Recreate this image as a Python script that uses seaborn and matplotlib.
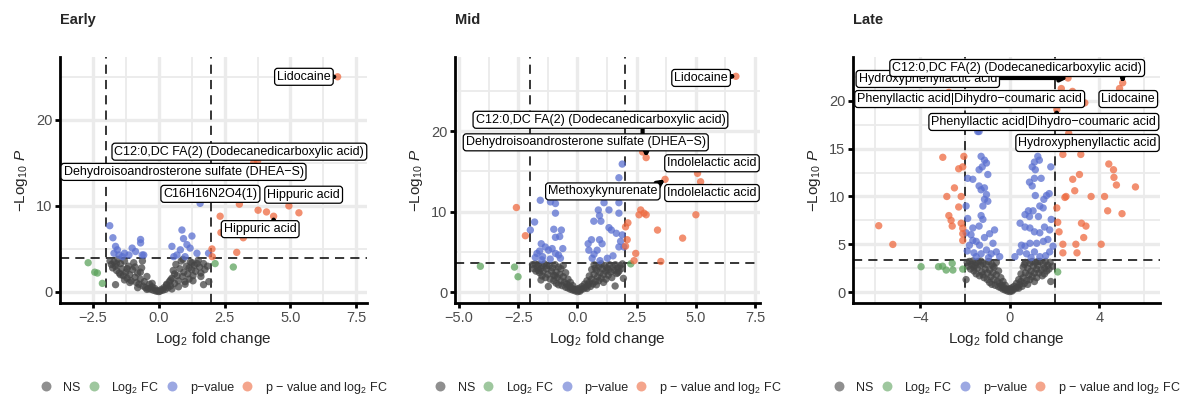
import matplotlib
matplotlib.use('Agg')
import matplotlib.pyplot as plt
import seaborn as sns
import pandas as pd
import numpy as np

sns.set_theme(style='white')
plt.rcParams['font.family'] = ['Liberation Sans', 'DejaVu Sans']
plt.rcParams['mathtext.fontset'] = 'custom'
plt.rcParams['mathtext.rm'] = 'Liberation Sans'
plt.rcParams['mathtext.it'] = 'Liberation Sans:italic'

CATS = ['NS', 'Log$_2$ FC', 'p\u2212value', 'p \u2212 value and log$_2$ FC']
COLORS = ['#454545', '#5da35d', '#5a6fd0', '#ee6a40']

# ---------------- Early ----------------
early_ns = [(-1.85, 3.6), (-1.8, 3.2), (-1.75, 2.8), (-1.7, 3.5), (-1.65, 3.0), (-1.6, 2.5), (-1.55, 3.8),
            (-1.5, 2.2), (-1.45, 3.3), (-1.4, 2.7), (-1.35, 1.9), (-1.3, 3.6), (-1.25, 2.3), (-1.2, 1.6),
            (-1.15, 3.0), (-1.1, 2.0), (-1.05, 1.3), (-1.0, 2.6), (-0.95, 3.4), (-0.9, 1.7), (-0.85, 1.1),
            (-0.8, 2.2), (-0.75, 0.9), (-0.7, 1.5), (-0.65, 2.8), (-0.6, 0.7), (-0.55, 1.2), (-0.5, 0.5),
            (-0.45, 1.8), (-0.4, 0.4), (-0.35, 0.9), (-0.3, 0.3), (-0.25, 0.6), (-0.2, 0.2), (-0.15, 0.4),
            (-0.1, 0.1), (-0.05, 0.15), (0.0, 0.05), (0.05, 0.1), (0.1, 0.3), (0.15, 0.2), (0.2, 0.5),
            (0.25, 0.3), (0.3, 0.8), (0.35, 0.5), (0.4, 1.2), (0.45, 0.7), (0.5, 1.6), (0.55, 2.5),
            (0.6, 1.0), (0.65, 3.2), (0.7, 1.9), (0.75, 1.3), (0.8, 2.7), (0.85, 3.6), (0.9, 1.8),
            (0.95, 2.3), (1.0, 1.2), (1.05, 3.0), (1.1, 2.1), (1.15, 1.5), (1.2, 3.5), (1.25, 2.6),
            (1.3, 1.9), (1.35, 3.1), (1.4, 2.4), (1.5, 3.7), (1.55, 2.9), (1.6, 2.2), (1.7, 3.3),
            (1.75, 2.6), (1.85, 3.0), (-1.64, 0.85), (1.7, 0.85), (1.9, 1.2), (1.26, 3.4), (-0.62, 3.6),
            (0.92, 3.8), (-1.1, 1.1), (-0.8, 0.5), (-0.45, 0.3), (0.5, 0.35), (0.75, 0.6), (1.0, 0.9),
            (-1.3, 1.4), (1.3, 1.3), (-0.25, 1.0), (0.3, 0.9), (-1.6, 3.3), (-1.2, 2.7), (-0.9, 2.9),
            (0.6, 2.1), (1.15, 2.8), (1.45, 3.3), (-1.45, 2.0), (-0.7, 2.3), (0.45, 1.4), (1.6, 1.8)]
early_fc = [(-2.68, 3.4), (-2.43, 2.3), (-2.33, 2.2), (-2.14, 1.0), (2.14, 3.3), (2.83, 2.9)]
early_p = [(-1.86, 7.7), (-1.74, 6.3), (-1.64, 5.3), (-1.57, 4.9), (-1.70, 4.5), (-1.51, 4.3), (-1.38, 4.1),
           (-1.30, 4.5), (-1.13, 4.3), (-1.01, 5.1), (-0.88, 4.7), (-0.69, 6.1), (-0.69, 5.7), (-0.63, 4.3),
           (-0.57, 4.3), (0.50, 5.3), (0.57, 4.1), (0.69, 4.3), (0.82, 4.9), (0.88, 7.2), (0.94, 6.2),
           (1.00, 4.1), (1.07, 5.5), (1.19, 5.1), (1.26, 6.5), (1.45, 4.5), (1.57, 10.3), (1.89, 4.5)]
early_both = [(2.02, 5.0), (2.03, 4.1), (2.33, 8.8), (2.36, 6.9), (2.96, 4.6), (3.21, 6.3), (3.77, 9.5),
              (4.09, 9.3), (5.32, 9.2)]
early_lab = ['Lidocaine', 'C12:0,DC FA(2) (Dodecanedicarboxylic acid)',
             'Dehydroisoandrosterone sulfate (DHEA\u2212S)', 'C16H16N2O4(1)', 'Hippuric acid', 'Hippuric acid']
early_lab_pt = [(6.79, 25.0), (3.75, 15.2), (3.6, 15.0), (3.06, 10.2), (4.94, 10.0), (4.36, 8.8)]
early_lab_at = [(5.51, 25.0), (3.06, 16.3), (0.94, 13.95), (1.96, 11.4), (5.5, 11.3), (3.85, 7.3)]
early_pcut = 3.95

# ---------------- Mid ----------------
mid_ns = [(-1.9, 3.4), (-1.85, 2.9), (-1.8, 3.5), (-1.75, 2.6), (-1.7, 3.1), (-1.65, 3.45), (-1.6, 2.4),
          (-1.55, 2.9), (-1.5, 3.3), (-1.5, 2.0), (-1.45, 2.6), (-1.4, 3.5), (-1.35, 1.8), (-1.3, 2.9),
          (-1.25, 2.2), (-1.2, 3.3), (-1.15, 1.6), (-1.1, 2.6), (-1.05, 3.0), (-1.0, 1.4), (-1.0, 2.1),
          (-0.95, 3.4), (-0.9, 1.1), (-0.9, 2.5), (-0.85, 1.8), (-0.8, 3.1), (-0.8, 0.9), (-0.75, 2.2),
          (-0.7, 1.4), (-0.7, 2.9), (-0.65, 0.8), (-0.6, 1.9), (-0.6, 3.3), (-0.55, 1.2), (-0.5, 0.6),
          (-0.5, 2.4), (-0.45, 1.0), (-0.4, 0.5), (-0.4, 1.6), (-0.35, 0.8), (-0.3, 0.35), (-0.3, 1.2),
          (-0.25, 0.5), (-0.2, 0.25), (-0.2, 0.8), (-0.15, 0.35), (-0.1, 0.15), (-0.05, 0.3), (0.0, 0.05),
          (0.0, 0.4), (0.05, 0.2), (0.1, 0.1), (0.1, 0.5), (0.15, 0.3), (0.2, 0.7), (0.25, 0.4), (0.3, 1.0),
          (0.35, 0.6), (0.4, 1.4), (0.4, 0.45), (0.45, 0.9), (0.5, 2.0), (0.5, 1.2), (0.55, 0.7), (0.6, 2.8),
          (0.6, 1.6), (0.65, 1.0), (0.7, 3.4), (0.7, 2.2), (0.75, 1.3), (0.8, 2.7), (0.8, 0.9), (0.85, 1.9),
          (0.9, 3.2), (0.9, 1.4), (0.95, 2.4), (1.0, 3.5), (1.0, 1.7), (1.05, 2.9), (1.1, 1.2), (1.1, 2.2),
          (1.15, 3.3), (1.2, 2.6), (1.2, 1.6), (1.25, 3.0), (1.3, 2.1), (1.35, 3.4), (1.4, 2.5), (1.45, 1.8),
          (1.5, 3.1), (1.55, 2.7), (1.6, 3.4), (1.65, 2.3), (1.7, 3.0), (1.75, 2.6), (1.8, 3.3), (1.85, 2.9),
          (1.9, 3.5), (-1.54, 1.5), (-1.23, 0.7), (1.59, 0.75), (1.94, 1.7), (-1.3, 3.3), (-0.95, 2.0),
          (0.75, 3.0), (1.3, 2.8), (-1.65, 2.7), (1.7, 2.4)]
mid_fc = [(-4.1, 3.2), (-2.66, 3.1), (-2.51, 1.9), (2.25, 3.5)]
mid_p = [(1.89, 15.9), (1.75, 14.2), (-1.57, 11.4), (-1.14, 11.2), (-0.93, 11.0), (-0.93, 9.8), (1.12, 11.1),
         (1.75, 11.1), (0.88, 10.2), (1.33, 10.2), (1.75, 9.8), (0.93, 9.5), (0.69, 8.8), (0.99, 8.8),
         (-1.81, 8.7), (-1.99, 7.7), (-1.0, 7.8), (-0.68, 7.7), (-0.75, 6.9), (-0.93, 6.8), (1.33, 8.0),
         (1.43, 7.7), (0.59, 6.5), (0.93, 6.5), (1.82, 6.3), (1.75, 5.6), (-1.53, 6.0), (-1.36, 5.6),
         (-1.07, 5.4), (-0.62, 5.4), (-1.71, 4.8), (-1.78, 4.3), (-1.47, 4.4), (-0.93, 4.8), (-0.72, 4.2),
         (0.48, 5.2), (0.83, 5.2), (0.62, 4.2), (1.26, 4.2), (0.45, 6.0), (1.04, 6.0), (-1.5, 4.0),
         (-1.22, 5.2), (1.96, 5.6), (1.89, 7.1), (1.64, 7.3), (-1.6, 5.1), (-0.8, 4.6), (0.7, 4.7),
         (1.5, 4.5), (-1.15, 4.1), (0.95, 3.9)]
mid_both = [(-2.58, 10.5), (-2.2, 7.0), (2.13, 8.6), (2.03, 8.1), (2.1, 6.5), (2.03, 5.7), (2.46, 4.8),
            (2.39, 3.9), (2.67, 10.2), (2.81, 9.8), (2.6, 9.6), (2.9, 9.6), (3.38, 7.7), (3.52, 3.8),
            (4.44, 6.7), (5.0, 9.6), (5.64, 13.0), (4.72, 13.0)]
mid_lab = ['Lidocaine', 'C12:0,DC FA(2) (Dodecanedicarboxylic acid)',
           'Dehydroisoandrosterone sulfate (DHEA\u2212S)', 'Indolelactic acid', 'Indolelactic acid',
           'Methoxykynurenate']
mid_lab_pt = [(6.69, 26.8), (2.75, 17.4), (2.9, 16.7), (5.07, 14.75), (5.2, 13.7), (3.7, 14.0)]
mid_lab_at = [(5.22, 26.6), (0.97, 21.4), (0.35, 18.6), (5.68, 16.0), (5.68, 12.3), (1.07, 12.5)]
mid_pcut = 3.6

# ---------------- Late ----------------
late_ns = [(-1.95, 1.3), (-1.9, 3.1), (-1.85, 2.7), (-1.8, 3.2), (-1.75, 2.4), (-1.7, 2.9), (-1.65, 3.25),
           (-1.6, 2.2), (-1.55, 2.8), (-1.5, 3.1), (-1.5, 1.9), (-1.45, 2.5), (-1.4, 3.2), (-1.35, 1.7),
           (-1.3, 2.8), (-1.25, 2.1), (-1.2, 3.0), (-1.2, 1.8), (-1.15, 1.5), (-1.1, 2.4), (-1.05, 2.9),
           (-1.0, 1.3), (-1.0, 2.0), (-0.95, 3.2), (-0.9, 1.0), (-0.9, 2.3), (-0.85, 1.6), (-0.8, 2.9),
           (-0.8, 0.8), (-0.75, 2.0), (-0.7, 1.3), (-0.7, 2.6), (-0.65, 0.7), (-0.6, 1.8), (-0.6, 3.1),
           (-0.55, 1.1), (-0.5, 0.55), (-0.5, 2.2), (-0.45, 0.9), (-0.4, 0.45), (-0.4, 1.5), (-0.35, 0.7),
           (-0.3, 0.3), (-0.3, 1.1), (-0.25, 0.45), (-0.2, 0.2), (-0.2, 0.7), (-0.15, 0.3), (-0.1, 0.1),
           (-0.05, 0.25), (0.0, 0.05), (0.0, 0.35), (0.05, 0.15), (0.1, 0.1), (0.1, 0.45), (0.15, 0.25),
           (0.2, 0.6), (0.25, 0.35), (0.3, 0.9), (0.35, 0.5), (0.4, 1.3), (0.4, 0.4), (0.45, 0.8), (0.5, 1.9),
           (0.5, 1.1), (0.55, 0.6), (0.6, 2.6), (0.6, 1.5), (0.65, 0.9), (0.7, 3.1), (0.7, 2.0), (0.75, 1.2),
           (0.8, 2.5), (0.8, 0.8), (0.85, 1.8), (0.9, 3.0), (0.9, 1.3), (0.95, 2.2), (1.0, 3.2), (1.0, 1.6),
           (1.05, 2.7), (1.1, 1.1), (1.1, 2.0), (1.15, 3.1), (1.2, 2.4), (1.2, 1.5), (1.25, 2.8), (1.3, 2.0),
           (1.35, 3.2), (1.4, 2.3), (1.45, 1.7), (1.5, 2.9), (1.55, 2.5), (1.6, 3.2), (1.65, 2.2), (1.7, 2.8),
           (1.75, 2.4), (1.8, 3.1), (1.83, 1.1), (1.9, 2.7), (-1.3, 3.25), (-0.75, 2.7), (0.65, 2.9),
           (1.25, 3.2), (-1.6, 2.6), (1.55, 1.9)]
late_fc = [(-3.96, 2.65), (-3.18, 2.65), (-3.0, 2.7), (-2.84, 2.3), (-2.57, 3.0), (-2.54, 2.3), (-2.1, 2.4),
           (2.14, 2.1)]
late_p = [(-1.43, 16.8), (-1.37, 16.8), (-1.28, 14.2), (-1.13, 13.8), (-1.23, 13.1), (-1.04, 13.5),
          (-1.37, 12.8), (-1.65, 11.8), (-1.88, 11.9), (-0.98, 12.3), (-1.37, 11.1), (-1.28, 10.7),
          (-1.13, 10.9), (-1.04, 10.2), (-1.13, 9.7), (-0.98, 9.5), (-1.2, 9.0), (-1.95, 9.0), (-1.28, 8.0),
          (-1.2, 7.6), (-1.37, 6.9), (-1.88, 7.7), (-1.95, 6.2), (-1.73, 6.0), (-1.65, 5.4), (-1.8, 4.9),
          (-1.5, 5.3), (-1.35, 4.9), (-1.13, 5.7), (-0.9, 6.1), (-0.75, 5.1), (-0.68, 6.5), (-1.04, 4.4),
          (-0.83, 4.0), (-0.6, 4.2), (-0.45, 3.7), (-1.5, 3.7), (-1.28, 4.0), (-1.65, 6.7), (-1.9, 4.3),
          (-1.6, 4.1), (-0.95, 3.6), (1.25, 14.2), (1.32, 13.8), (1.1, 13.6), (1.0, 13.1), (1.14, 12.8),
          (1.1, 11.9), (0.88, 11.5), (1.4, 11.9), (1.83, 13.1), (1.64, 10.1), (1.76, 10.3), (1.52, 9.7),
          (1.0, 11.1), (1.14, 10.1), (0.83, 8.5), (0.68, 8.1), (0.88, 7.9), (1.04, 8.5), (1.34, 9.0),
          (1.49, 8.8), (1.28, 7.9), (0.46, 7.2), (0.68, 6.8), (0.9, 6.7), (1.1, 6.3), (1.34, 6.2),
          (1.55, 6.8), (1.85, 7.6), (1.78, 6.5), (1.7, 5.5), (1.5, 5.3), (1.2, 5.1), (0.9, 5.1), (0.68, 4.8),
          (0.45, 4.2), (0.75, 4.0), (1.1, 4.2), (1.34, 3.7), (1.78, 4.2), (1.93, 4.8), (0.23, 3.7),
          (0.52, 4.9), (1.6, 3.8), (0.95, 3.6)]
late_both = [(-5.85, 6.94), (-5.22, 4.98), (-2.99, 14.1), (-2.28, 12.9), (-2.1, 13.1), (-2.05, 14.2),
             (-2.47, 10.9), (-2.81, 10.0), (-2.17, 10.0), (-2.28, 8.9), (-2.72, 8.0), (-2.62, 7.5),
             (-2.57, 6.9), (-2.17, 7.2), (-2.1, 6.67), (-2.1, 6.1), (-2.1, 5.4), (-2.72, 20.9),
             (2.14, 7.3), (2.1, 8.8), (2.2, 6.3), (2.37, 5.0), (2.37, 4.1), (2.51, 10.0), (2.46, 9.9),
             (2.37, 14.4), (2.63, 16.6), (2.81, 11.8), (3.11, 12.3), (2.9, 10.6), (3.0, 4.1), (2.95, 5.0),
             (3.2, 7.2), (3.4, 6.9), (3.3, 5.7), (3.63, 10.0), (4.08, 5.0), (4.23, 10.0), (4.37, 8.5),
             (4.42, 13.4), (4.63, 12.8), (4.65, 12.0), (4.76, 11.2), (5.01, 8.2), (5.61, 11.0), (2.8, 21.0),
             (3.35, 19.8)]
late_lab = ['Hydroxyphenyllactic acid', 'C12:0,DC FA(2) (Dodecanedicarboxylic acid)',
            'Phenyllactic acid|Dihydro\u2212coumaric acid', 'Lidocaine',
            'Phenyllactic acid|Dihydro\u2212coumaric acid', 'Hydroxyphenyllactic acid']
late_lab_pt = [(2.6, 22.4), (5.04, 21.9), (2.3, 21.3), (4.9, 21.3), (2.1, 19.1), (3.17, 14.4)]
late_lab_at = [(-3.66, 22.3), (0.33, 23.45), (-1.79, 20.2), (5.29, 20.2), (1.52, 17.8), (3.47, 15.6)]
late_pcut = 3.35


def volcano(ax, title, groups, labels, lab_pt, lab_at, pcut, xlim, ylim, xmaj, xmin, ymaj, ymin):
    rows = []
    for cat, pts in zip(CATS, groups):
        rows += [(x, y, cat) for x, y in pts]
    rows += [(x, y, CATS[3]) for x, y in lab_pt]
    df = pd.DataFrame(rows, columns=['x', 'y', 'cat'])

    sns.scatterplot(data=df, x='x', y='y', hue='cat', hue_order=CATS, palette=dict(zip(CATS, COLORS)),
                    s=28, alpha=0.75, linewidth=0, ax=ax, zorder=3)

    for v in (-2, 2):
        ax.axvline(v, color='black', lw=1.1, ls=(0, (6, 4)), zorder=2)
    ax.axhline(pcut, color='black', lw=1.1, ls=(0, (6, 4)), zorder=2)

    ax.set_xlim(*xlim)
    ax.set_ylim(*ylim)
    ax.set_xticks(xmaj)
    ax.set_xticks(xmin, minor=True)
    ax.set_yticks(ymaj)
    ax.set_yticks(ymin, minor=True)
    ax.grid(which='major', color='#ebebeb', lw=2.4, zorder=0)
    ax.grid(which='minor', color='#ebebeb', lw=1.3, zorder=0)
    ax.set_axisbelow(True)
    ax.tick_params(which='major', length=3.5, width=2, color='black', labelcolor='#4d4d4d',
                   labelsize=10.5, direction='out', bottom=True, left=True, pad=2)
    ax.tick_params(which='minor', length=0)
    for s in ('top', 'right'):
        ax.spines[s].set_visible(False)
    for s in ('left', 'bottom'):
        ax.spines[s].set_color('black')
        ax.spines[s].set_linewidth(2)

    ax.set_xlabel('Log$_2$ fold change', fontsize=11, labelpad=4)
    ax.set_ylabel('$-$Log$_{10}$ $P$', fontsize=11, labelpad=4)
    ax.set_title(title, loc='left', fontweight='bold', fontsize=10.5, pad=24)

    sns.move_legend(ax, 'center', bbox_to_anchor=(0.5, -0.345), ncol=4, title=None, frameon=False,
                    fontsize=9, handlelength=1.0, handletextpad=0.9, columnspacing=0.55, markerscale=1.35)
    for h in ax.get_legend().legend_handles:
        h.set_alpha(0.6)

    texts = []
    for name, (lx, ly) in zip(labels, lab_at):
        t = ax.text(lx, ly, name, ha='center', va='center', fontsize=9, color='black', zorder=6,
                    bbox=dict(boxstyle='round,pad=0.2,rounding_size=0.25', fc='white', ec='black', lw=0.9))
        texts.append(t)
    return texts


fig = plt.figure(figsize=(11.85, 4.0), dpi=100)
ax1 = fig.add_axes([0.0506, 0.2425, 0.259, 0.615])
ax2 = fig.add_axes([0.384, 0.2425, 0.2574, 0.615])
ax3 = fig.add_axes([0.7198, 0.2425, 0.259, 0.615])

panels = [
    (ax1, 'Early', [early_ns, early_fc, early_p, early_both], early_lab, early_lab_pt, early_lab_at, early_pcut,
     (-3.7, 7.9), (-1.28, 27.3), [-2.5, 0, 2.5, 5, 7.5], [-3.75, -1.25, 1.25, 3.75, 6.25], [0, 10, 20], [5, 15, 25]),
    (ax2, 'Mid', [mid_ns, mid_fc, mid_p, mid_both], mid_lab, mid_lab_pt, mid_lab_at, mid_pcut,
     (-5.17, 7.71), (-1.36, 29.2), [-5, -2.5, 0, 2.5, 5, 7.5], [-3.75, -1.25, 1.25, 3.75, 6.25], [0, 10, 20], [5, 15, 25]),
    (ax3, 'Late', [late_ns, late_fc, late_p, late_both], late_lab, late_lab_pt, late_lab_at, late_pcut,
     (-7.0, 6.7), (-1.15, 24.6), [-4, 0, 4], [-6, -2, 2, 6], [0, 5, 10, 15, 20], [2.5, 7.5, 12.5, 17.5, 22.5]),
]

all_texts = []
for p in panels:
    all_texts.append((p[0], volcano(*p), p[4]))

# connectors from the nearest edge of each label box to its point
fig.canvas.draw()
for ax, texts, pts in all_texts:
    for t, (px, py) in zip(texts, pts):
        bb = t.get_bbox_patch().get_window_extent()
        dx, dy = ax.transData.transform((px, py))
        nx = min(max(dx, bb.x0), bb.x1)
        ny = min(max(dy, bb.y0), bb.y1)
        if np.hypot(dx - nx, dy - ny) < 3:
            continue
        sx, sy = ax.transData.inverted().transform((nx, ny))
        ax.annotate('', xy=(px, py), xytext=(sx, sy), zorder=5,
                    arrowprops=dict(arrowstyle='-|>', color='black', lw=3, mutation_scale=9,
                                    shrinkA=0, shrinkB=0))

fig.savefig('out.png', dpi=100, facecolor='white')
